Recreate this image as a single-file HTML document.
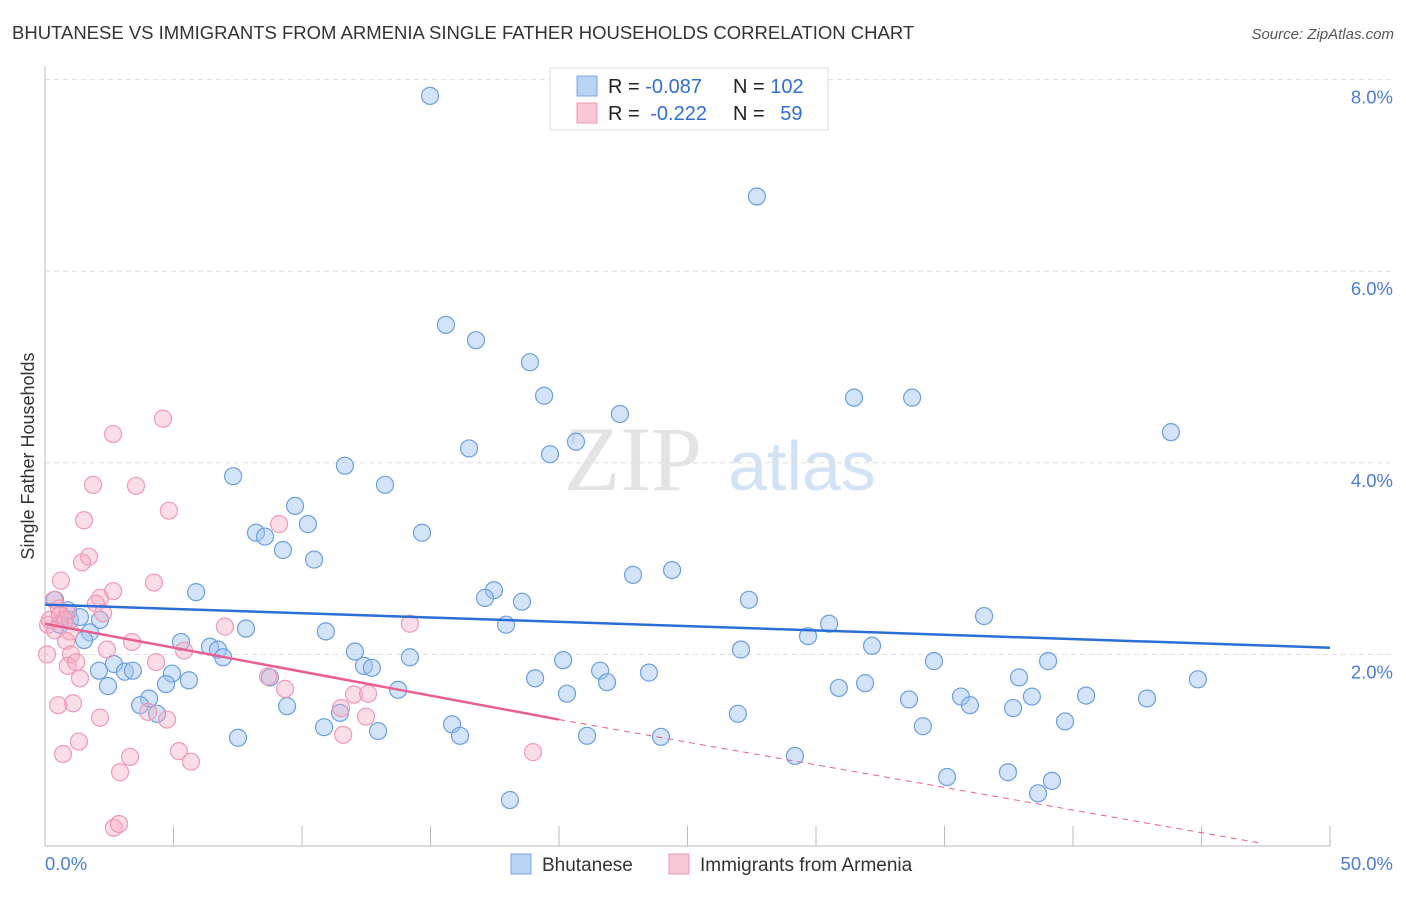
<!DOCTYPE html>
<html><head><meta charset="utf-8">
<style>
body{margin:0;background:#fff;font-family:"Liberation Sans",sans-serif;}
svg text{font-family:"Liberation Sans",sans-serif;}
</style></head>
<body>
<svg id="chart" width="1406" height="892" xmlns="http://www.w3.org/2000/svg">
<text x="12" y="39" font-size="18.5" fill="#333">BHUTANESE VS IMMIGRANTS FROM ARMENIA SINGLE FATHER HOUSEHOLDS CORRELATION CHART</text>
<text x="1394" y="39" font-size="15" fill="#555" font-style="italic" text-anchor="end">Source: ZipAtlas.com</text>
<text x="34" y="456" font-size="18" fill="#333" text-anchor="middle" transform="rotate(-90 34 456)">Single Father Households</text>
<g>
<text x="633" y="490" font-size="92" fill="#e4e4e4" text-anchor="middle" font-family="Liberation Serif" style="font-family:'Liberation Serif',serif">ZIP</text>
<text x="802" y="490" font-size="70" fill="#d3e3f6" text-anchor="middle">atlas</text>
</g>
<g id="grid"></g>
<g id="axes"></g>
<g id="pts"></g>
<g id="lines"></g>
<g>
<rect x="550" y="68" width="278" height="62" fill="#fff" stroke="#ddd"/>
<rect x="577" y="76" width="20" height="20" fill="#b9d3f5" stroke="#7aa7e3"/>
<rect x="577" y="103" width="20" height="20" fill="#f9c8d7" stroke="#f09ab5"/>
<text x="608" y="93" font-size="20" fill="#222">R = <tspan fill="#2f6fd1">-0.087</tspan></text>
<text x="733" y="93" font-size="20" fill="#222">N = <tspan fill="#2f6fd1">102</tspan></text>
<text x="608" y="120" font-size="20" fill="#222">R =  <tspan fill="#2f6fd1" dx="5">-0.222</tspan></text>
<text x="733" y="120" font-size="20" fill="#222">N = <tspan fill="#2f6fd1" dx="10">59</tspan></text>
</g>
<g>
<rect x="511" y="854" width="20" height="20" fill="#b9d3f5" stroke="#7aa7e3"/>
<text x="542" y="871" font-size="19" fill="#333">Bhutanese</text>
<rect x="669" y="854" width="20" height="20" fill="#f9c8d7" stroke="#f09ab5"/>
<text x="700" y="871" font-size="19" fill="#333">Immigrants from Armenia</text>
</g>
</svg>
<script>
const yTicks=[2,4,6,8];
const yTickLabels=["2.0%","4.0%","6.0%","8.0%"];
const xTicks=[0,5,10,15,20,25,30,35,40,45,50];
const xEndLabels=["0.0%","50.0%"];
const blueX=[14.98,27.70,15.60,16.77,18.87,19.42,22.37,31.48,33.74,20.66,16.50,19.65,43.81,7.32,11.67,13.23,9.73,10.23,8.21,8.56,9.26,14.67,10.47,22.88,24.40,17.47,17.12,18.56,27.39,5.88,36.54,30.51,17.94,29.69,10.93,7.82,32.18,5.29,6.42,6.73,6.93,27.08,12.06,14.20,20.16,34.59,39.03,2.68,2.10,3.11,3.42,4.94,12.41,12.72,5.60,21.60,23.50,37.90,44.86,19.07,21.87,4.71,2.45,8.75,30.89,31.91,13.74,4.05,20.31,35.64,38.40,40.51,42.88,3.70,33.62,35.99,9.42,37.67,26.96,4.36,11.48,15.84,39.69,10.86,34.16,12.96,16.15,21.09,23.97,7.51,29.18,35.10,37.47,39.18,38.64,18.09,0.39,0.58,0.97,1.36,1.75,2.14,1.52,0.89];
const blueY=[7.83,6.78,5.44,5.28,5.05,4.70,4.51,4.68,4.68,4.22,4.15,4.09,4.32,3.86,3.97,3.77,3.55,3.36,3.27,3.23,3.09,3.27,2.99,2.83,2.88,2.67,2.59,2.55,2.57,2.65,2.40,2.32,2.31,2.19,2.24,2.27,2.09,2.13,2.08,2.05,1.97,2.05,2.03,1.97,1.94,1.93,1.93,1.90,1.83,1.82,1.83,1.80,1.88,1.86,1.73,1.83,1.81,1.76,1.74,1.75,1.71,1.69,1.67,1.76,1.65,1.70,1.63,1.54,1.59,1.56,1.56,1.57,1.54,1.47,1.53,1.47,1.46,1.44,1.38,1.38,1.39,1.27,1.30,1.24,1.25,1.20,1.15,1.15,1.14,1.13,0.94,0.72,0.77,0.68,0.55,0.48,2.57,2.31,2.36,2.39,2.23,2.36,2.15,2.46];
const pinkX=[2.65,4.59,1.87,3.54,1.52,4.82,1.71,1.44,0.62,4.24,2.65,2.14,1.98,0.35,0.54,0.12,0.86,2.26,9.11,7.00,5.41,3.39,14.20,0.97,0.82,2.41,0.08,1.01,0.89,1.21,1.36,4.32,8.68,9.34,12.02,12.57,1.09,0.51,2.14,4.75,11.52,12.49,4.01,1.32,11.60,0.70,3.31,5.21,5.68,2.92,18.99,2.68,2.88,0.19,0.39,0.58,0.78];
const pinkY=[4.30,4.46,3.77,3.76,3.40,3.50,3.02,2.96,2.77,2.75,2.66,2.59,2.53,2.57,2.48,2.31,2.43,2.43,3.36,2.29,2.04,2.13,2.32,2.24,2.14,2.05,2.00,2.00,1.88,1.92,1.75,1.92,1.77,1.64,1.58,1.59,1.49,1.47,1.34,1.32,1.44,1.35,1.40,1.09,1.16,0.96,0.93,0.99,0.88,0.77,0.98,0.19,0.23,2.36,2.25,2.41,2.36];
const blueTrend=[2.52,2.07];
const pinkTrend=[2.32,1.32,0.03];
const pinkTrendX=[0,20,47.3];

const NS="http://www.w3.org/2000/svg";
const X0=45,X1=1330,Y0=846,YPER=95.8;
const sx=v=>X0+(X1-X0)*v/50;
const sy=v=>Y0-v*YPER;
function mk(tag,attrs,parent){const e=document.createElementNS(NS,tag);for(const k in attrs)e.setAttribute(k,attrs[k]);parent.appendChild(e);return e;}
const grid=document.getElementById('grid'),axes=document.getElementById('axes'),pts=document.getElementById('pts'),lines=document.getElementById('lines');
yTicks.forEach((t,i)=>{
  const l=mk('line',{x1:X0,x2:1395,y1:sy(t),y2:sy(t),stroke:'#ddd','stroke-dasharray':'5,4'},grid);
  
  
  const tx=mk('text',{x:1393,y:sy(t)+24,'font-size':18.5,fill:'#4a7fd6','text-anchor':'end'},axes);
  tx.textContent=yTickLabels[i];
  
  
});
const ya=mk('line',{x1:X0,x2:X0,y1:66,y2:Y0,stroke:'#bbb'},axes);


const xa=mk('line',{x1:X0,x2:X1,y1:Y0,y2:Y0,stroke:'#bbb'},axes);


xTicks.forEach(t=>{
  const l=mk('line',{x1:sx(t),x2:sx(t),y1:Y0-20,y2:Y0,stroke:'#bbb'},axes);
  
  
});
const xl0=mk('text',{x:45,y:870,'font-size':18.5,fill:'#4a7fd6'},axes);xl0.textContent=xEndLabels[0];


const xl1=mk('text',{x:1393,y:870,'font-size':18.5,fill:'#4a7fd6','text-anchor':'end'},axes);xl1.textContent=xEndLabels[1];


blueX.forEach((v,i)=>{
  const c=mk('circle',{cx:sx(v),cy:sy(blueY[i]),r:8.5,fill:'rgba(160,196,240,0.45)',stroke:'#6a9fe0','stroke-width':1.2},pts);
  
  
});
pinkX.forEach((v,i)=>{
  const c=mk('circle',{cx:sx(v),cy:sy(pinkY[i]),r:8.5,fill:'rgba(245,170,195,0.4)',stroke:'#f09ab5','stroke-width':1.2},pts);
  
  
});
const bl=mk('line',{x1:sx(0),y1:sy(blueTrend[0]),x2:sx(50),y2:sy(blueTrend[1]),stroke:'#2a6fd6','stroke-width':2.5},lines);


const pl=mk('line',{x1:sx(pinkTrendX[0]),y1:sy(pinkTrend[0]),x2:sx(pinkTrendX[1]),y2:sy(pinkTrend[1]),stroke:'#e8608f','stroke-width':2.5},lines);


const pd=mk('line',{x1:sx(pinkTrendX[1]),y1:sy(pinkTrend[1]),x2:sx(pinkTrendX[2]),y2:sy(pinkTrend[2]),stroke:'#e8608f','stroke-width':1,'stroke-dasharray':'6,5'},lines);


</script>
</body></html>
